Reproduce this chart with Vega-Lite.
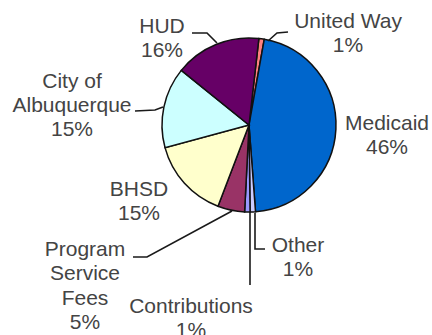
{
  "$schema": "https://vega.github.io/schema/vega-lite/v6.json",
  "width": 432,
  "height": 335,
  "padding": 0,
  "autosize": {"type": "none"},
  "background": "white",
  "config": {"view": {"stroke": null}},
  "datasets": {
    "slices": [
      {"source": "United Way", "share": 1, "idx": 1},
      {"source": "Medicaid", "share": 46, "idx": 2},
      {"source": "Other", "share": 1, "idx": 3},
      {"source": "Contributions", "share": 1, "idx": 4},
      {"source": "Program Service Fees", "share": 5, "idx": 5},
      {"source": "BHSD", "share": 15, "idx": 6},
      {"source": "City of Albuquerque", "share": 15, "idx": 7},
      {"source": "HUD", "share": 16, "idx": 8}
    ],
    "labels": [
      {"txt": "HUD\n16%", "x": -87, "y": 98},
      {"txt": "United Way\n1%", "x": 99, "y": 103},
      {"txt": "City of\nAlbuquerque\n15%", "x": -177, "y": 43.5},
      {"txt": "Medicaid\n46%", "x": 138, "y": 1.5},
      {"txt": "BHSD\n15%", "x": -110, "y": -64.5},
      {"txt": "Program\nService\nFees\n5%", "x": -164, "y": -125},
      {"txt": "Contributions\n1%", "x": -58, "y": -181.5},
      {"txt": "Other\n1%", "x": 49, "y": -120.5}
    ],
    "leaders": [
      {"id": "HUD", "k": 1, "x": -57, "y": 92},
      {"id": "HUD", "k": 2, "x": -42, "y": 92},
      {"id": "HUD", "k": 3, "x": -32, "y": 82},
      {"id": "UW", "k": 1, "x": 39, "y": 93},
      {"id": "UW", "k": 2, "x": 28, "y": 92},
      {"id": "UW", "k": 3, "x": 19, "y": 84},
      {"id": "City", "k": 1, "x": -114, "y": 14},
      {"id": "City", "k": 2, "x": -94, "y": 15},
      {"id": "City", "k": 3, "x": -86, "y": 18},
      {"id": "PSF", "k": 1, "x": -116, "y": -132},
      {"id": "PSF", "k": 2, "x": -102, "y": -132},
      {"id": "PSF", "k": 3, "x": -17, "y": -86},
      {"id": "Contr", "k": 1, "x": 1, "y": -87},
      {"id": "Contr", "k": 2, "x": 1, "y": -160},
      {"id": "Other", "k": 1, "x": 6, "y": -88},
      {"id": "Other", "k": 2, "x": 6, "y": -124},
      {"id": "Other", "k": 3, "x": 16, "y": -124}
    ]
  },
  "layer": [
    {
      "data": {"name": "slices"},
      "mark": {"type": "arc", "outerRadius": 87, "stroke": "#111111", "strokeWidth": 1.5},
      "encoding": {
        "x": {"datum": 0, "type": "quantitative", "scale": {"domain": [-249, 183], "nice": false, "zero": false}, "axis": null},
        "y": {"datum": 0, "type": "quantitative", "scale": {"domain": [-210, 125], "nice": false, "zero": false}, "axis": null},
        "theta": {"field": "share", "type": "quantitative", "stack": true, "scale": {"range": [0.1134, 6.3966]}},
        "order": {"field": "idx", "type": "quantitative"},
        "color": {
          "field": "source",
          "type": "nominal",
          "scale": {
            "domain": ["United Way", "Medicaid", "Other", "Contributions", "Program Service Fees", "BHSD", "City of Albuquerque", "HUD"],
            "range": ["#FF8080", "#0066CC", "#CCCCFF", "#9999FF", "#993366", "#FFFFCC", "#CCFFFF", "#660066"]
          },
          "legend": null
        }
      }
    },
    {
      "data": {"name": "leaders"},
      "mark": {"type": "line", "stroke": "#1a1a1a", "strokeWidth": 1.6},
      "encoding": {
        "x": {"field": "x", "type": "quantitative"},
        "y": {"field": "y", "type": "quantitative"},
        "detail": {"field": "id", "type": "nominal"},
        "order": {"field": "k", "type": "quantitative"}
      }
    },
    {
      "data": {"name": "labels"},
      "mark": {"type": "text", "lineBreak": "\n", "font": "Liberation Sans", "fontSize": 21, "lineHeight": 24.3, "fill": "#444444", "align": "center", "baseline": "middle"},
      "encoding": {
        "x": {"field": "x", "type": "quantitative"},
        "y": {"field": "y", "type": "quantitative"},
        "text": {"field": "txt", "type": "nominal"}
      }
    }
  ]
}
